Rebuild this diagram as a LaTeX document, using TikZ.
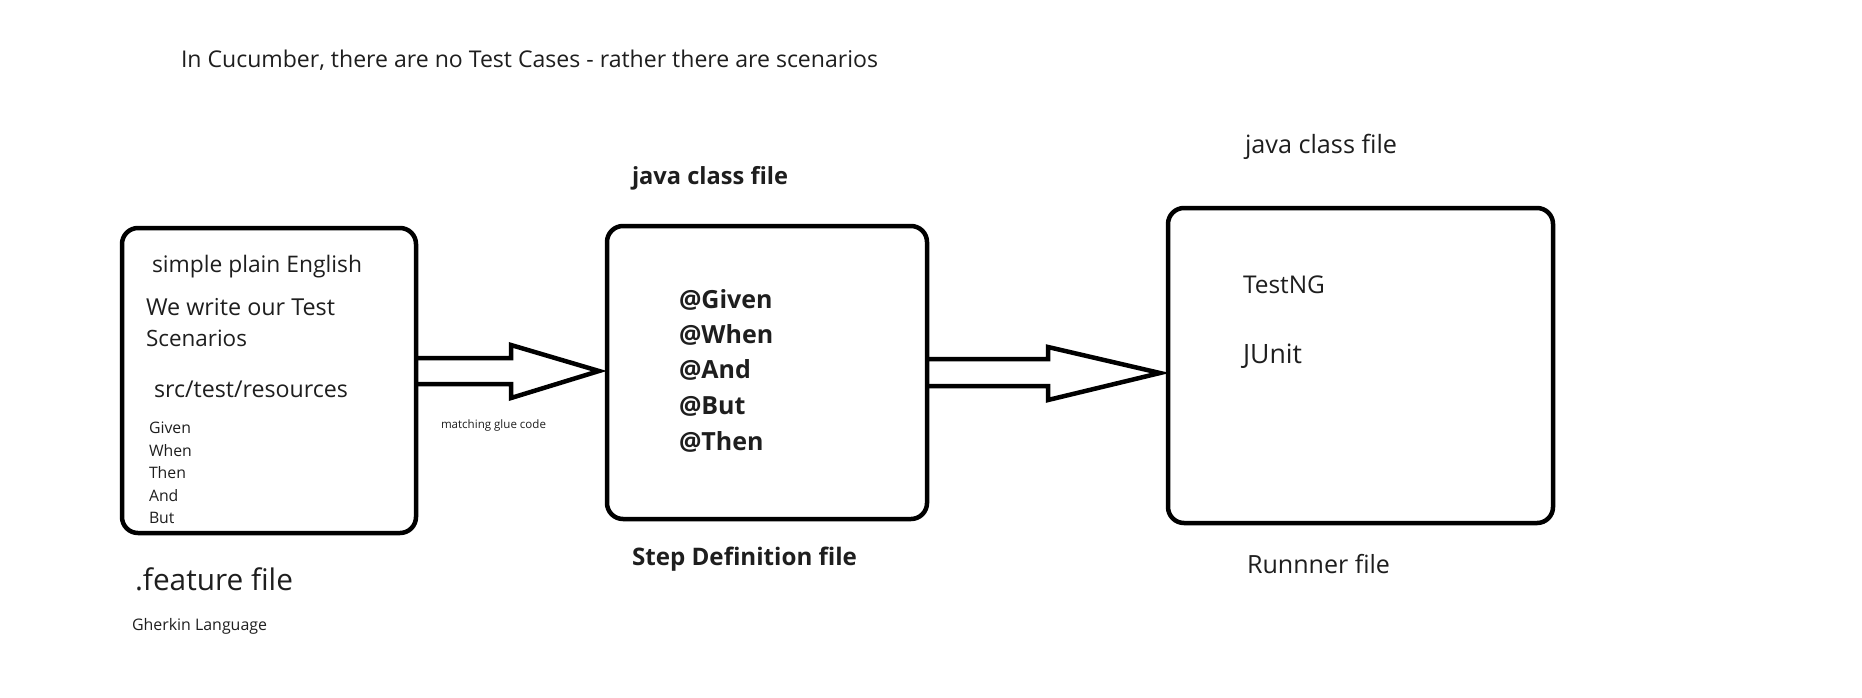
\documentclass[tikz,border=0pt]{standalone}
\usepackage{fontspec}
\setmainfont{Open Sans}
\usetikzlibrary{calc}
\definecolor{txt}{RGB}{30,30,30}
\newcommand\fitw[2]{\resizebox{#1pt}{!}{#2}}
\begin{document}
\begin{tikzpicture}[x=1pt,y=-1pt,
  lbl/.style={anchor=base west, inner sep=0pt, outer sep=0pt, text=txt},
  boxst/.style={draw, line width=4.5pt, rounded corners=16pt, inner sep=0pt, outer sep=0pt},
  blockarrow/.style={draw, line width=4.5pt, line join=miter, fill=white},
  kw/.style={lbl, font=\fontsize{15.8}{16}\selectfont},
  ann/.style={lbl, font=\fontsize{25}{26}\selectfont\bfseries}]
\useasboundingbox (0,0) rectangle (1862,697);
% box edges (boxes drawn after the arrows)
\coordinate (b1e) at (416,380.5);
\coordinate (b2w) at (599,372.5);
\coordinate (b2e) at (927,372.5);
\coordinate (b3w) at (1160,365.5);
% block arrows
\draw[blockarrow] (b1e |- 0,358) -- (511,358) -- (511,345) -- (b2w |- 0,371) -- (511,398) -- (511,384) -- (b1e |- 0,384);
\draw[blockarrow] (b2e |- 0,359) -- (1048,359) -- (1048,347) -- (b3w |- 0,373) -- (1048,400) -- (1048,386) -- (b2e |- 0,386);
% boxes
\node[boxst, minimum width=294pt, minimum height=305pt] (b1) at (269,380.5) {};
\node[boxst, minimum width=320pt, minimum height=293pt] (b2) at (767,372.5) {};
\node[boxst, minimum width=385pt, minimum height=315pt] (b3) at (1360.5,365.5) {};
% title
\node[lbl] (title) at (181,67.5) {\fitw{697}{In Cucumber, there are no Test Cases - rather there are scenarios}};
% box 1 texts
\node[lbl] (t1) at (152,272) {\fitw{210}{simple plain English}};
\node[lbl] (t2) at (146,315) {\fitw{189}{We write our Test}};
\node[lbl] (t3) at (146,346) {\fitw{101}{Scenarios}};
\node[lbl] (t4) at (154,397) {\fitw{194}{src/test/resources}};
\node[kw] (g1) at (149,433) {Given};
\node[kw] (g2) at (149,456) {When};
\node[kw] (g3) at (149,478) {Then};
\node[kw] (g4) at (149,501) {And};
\node[kw] (g5) at (149,523) {But};
\node[lbl] (feat) at (135,590) {\fitw{158}{.feature file}};
\node[lbl] (gher) at (132,630) {\fitw{135}{Gherkin Language}};
\node[lbl] (glue) at (441,428) {\fitw{105}{matching glue code}};
% box 2 texts
\node[lbl] (jc1) at (632,184) {\fitw{156}{\bfseries java class file}};
\node[ann] (s1) at (679,308) {@Given};
\node[ann] (s2) at (679,343) {@When};
\node[ann] (s3) at (679,378) {@And};
\node[ann] (s4) at (679,414) {@But};
\node[ann] (s5) at (679,450) {@Then};
\node[lbl] (sdf) at (632,565) {\fitw{225}{\bfseries Step Definition file}};
% box 3 texts
\node[lbl] (jc2) at (1245,153) {\fitw{152}{java class file}};
\node[lbl] (tng) at (1243,293) {\fitw{82}{TestNG}};
\node[lbl] (jun) at (1243,363) {\fitw{59}{JUnit}};
\node[lbl] (run) at (1247,573) {\fitw{143}{Runnner file}};
\end{tikzpicture}
\end{document}
